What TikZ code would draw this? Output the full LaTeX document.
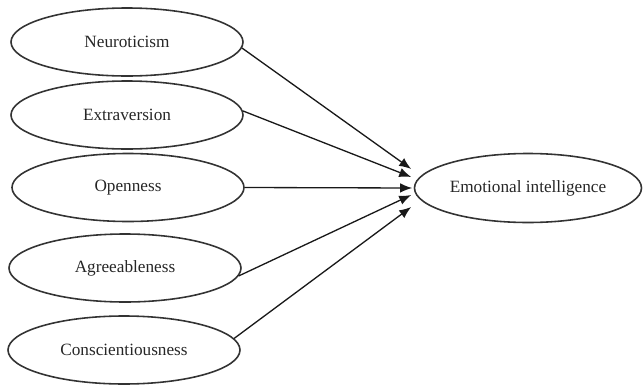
\documentclass[tikz,border=0pt]{standalone}
\usepackage{xcolor}
\usepackage{fontspec}
\setmainfont{Liberation Serif}
\usepackage{tikz}
\usetikzlibrary{shapes,arrows.meta,positioning,calc}

\begin{document}
\begin{tikzpicture}[>={Latex[length=2.4mm,width=1.9mm]},
  trait/.style={draw=black!80, line width=0.9pt, ellipse, minimum width=4.64cm, minimum height=1.36cm, inner sep=0pt, font=\fontsize{9.8}{12}\selectfont, text=black!85},
  link/.style={->, line width=0.75pt, black!90}]
\useasboundingbox (0,0) rectangle (12.86,-7.70);

% Personality traits
\node[trait] (neuro) at (2.54,-0.84) {Neuroticism};
\node[trait] (extra) at (2.54,-2.30) {Extraversion};
\node[trait] (open) at (2.56,-3.75) {Openness};
\node[trait] (agree) at (2.50,-5.36) {Agreeableness};
\node[trait] (consc) at (2.48,-7.00) {Conscientiousness};

% Outcome
\node[trait, minimum width=4.54cm, minimum height=1.38cm] (emo) at (10.56,-3.76) {Emotional intelligence};

% Trait connections
\draw[link] (neuro.-3) -- ([xshift=-0.05cm,yshift=0.38cm]emo.west);
\draw[link] (extra.2) -- ([xshift=-0.05cm,yshift=0.22cm]emo.west);
\draw[link] (open.east) -- ([xshift=-0.03cm]emo.west);
\draw[link] (agree.-4) -- ([xshift=-0.05cm,yshift=-0.14cm]emo.west);
\draw[link] (consc.6) -- ([xshift=-0.05cm,yshift=-0.38cm]emo.west);

\end{tikzpicture}
\end{document}
